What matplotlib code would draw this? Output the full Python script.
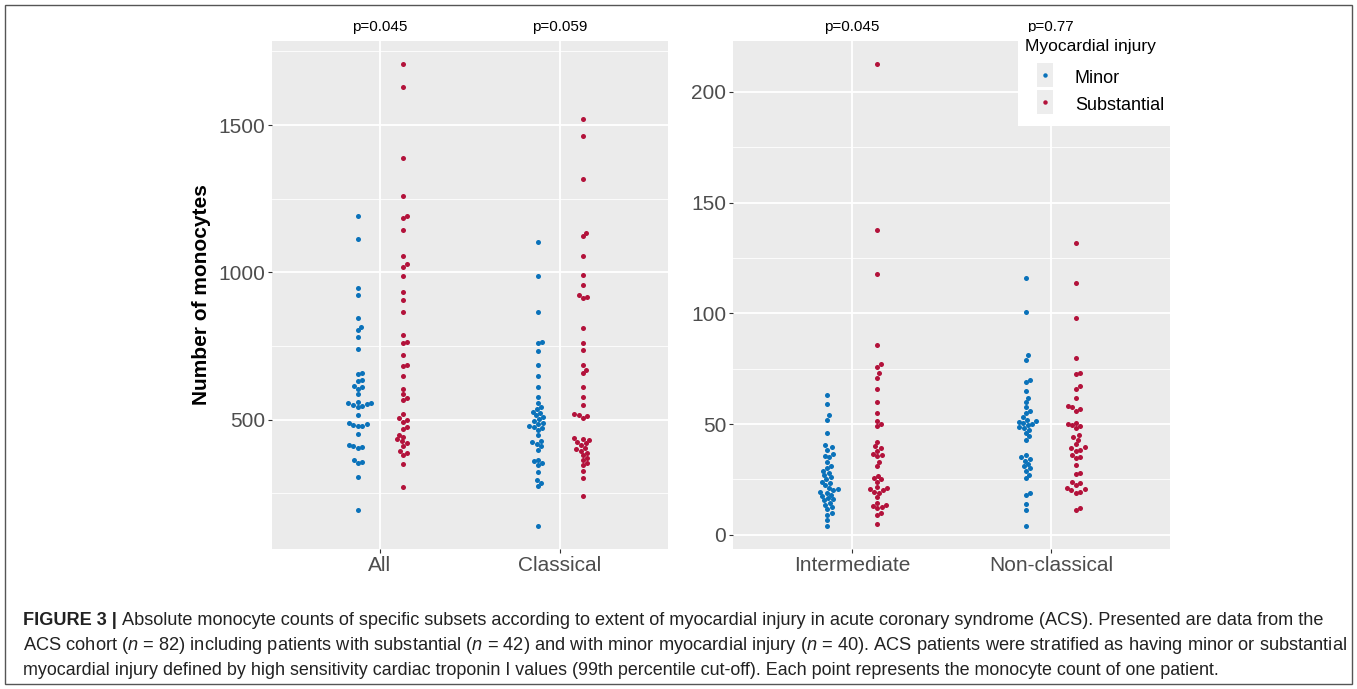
# Monocyte subsets by extent of myocardial injury (beeswarm, two panels)

import numpy as np
import matplotlib.pyplot as plt
from matplotlib.patches import Rectangle
from matplotlib.lines import Line2D

plt.rcParams['font.family'] = ['Liberation Sans', 'DejaVu Sans']
plt.rcParams['mathtext.fontset'] = 'custom'
plt.rcParams['mathtext.it'] = 'Liberation Sans:italic'
plt.rcParams['mathtext.rm'] = 'Liberation Sans'

# Data (monocyte counts per patient)

groups = ['Minor', 'Substantial']
colors = ['#0A72BA', '#B3123B']

left_categories = ['All', 'Classical']
right_categories = ['Intermediate', 'Non-classical']

all_minor = [1192, 1112, 946, 924, 845, 816, 805, 780, 740, 660, 655, 636, 632, 615, 610,
             605, 587, 562, 558, 556, 553, 550, 547, 545, 515, 490, 486, 482, 480, 478,
             453, 415, 412, 408, 404, 364, 358, 353, 306, 195]
all_subst = [1707, 1630, 1388, 1260, 1192, 1186, 1144, 1056, 1029, 1020, 989, 935, 907, 865,
             788, 765, 760, 719, 686, 681, 647, 604, 587, 574, 568, 519, 506, 500, 494, 477,
             470, 450, 443, 435, 428, 421, 412, 395, 387, 381, 350, 273]
classical_minor = [1104, 988, 866, 765, 760, 732, 685, 650, 612, 577, 556, 545, 535, 528, 522,
                   515, 508, 502, 496, 490, 485, 480, 476, 472, 465, 447, 429, 424, 419, 410,
                   398, 365, 359, 354, 348, 323, 297, 287, 276, 140]
classical_subst = [1521, 1464, 1317, 1135, 1124, 1056, 992, 957, 924, 918, 913, 813, 760, 736,
                   686, 669, 658, 611, 576, 550, 520, 517, 512, 506, 438, 435, 430, 425, 420,
                   415, 404, 400, 395, 387, 380, 370, 362, 353, 345, 325, 304, 240]
intermediate_minor = [63, 59, 54, 52, 46, 40.5, 39.5, 38.5, 36.5, 35.5, 35, 33, 31, 30, 29, 28,
                      27, 26, 25, 24, 23.5, 22.5, 21, 20.5, 20, 19.5, 19, 18, 17.5, 16.5, 16,
                      15.5, 14.5, 13.5, 12.5, 11.5, 10, 9, 6.5, 4]
intermediate_subst = [212.6, 137.7, 117.8, 85.8, 77, 76, 73, 71, 66, 60, 55, 51.5, 50, 49, 42,
                      40, 39, 38, 36.5, 36, 35.5, 33, 31, 26.5, 25.5, 25, 24, 21.5, 21, 20.5,
                      20, 19.5, 19, 17, 14.5, 13.5, 13, 12.5, 12, 10, 9, 5]
nonclassical_minor = [115.9, 100.8, 81, 79, 70, 69, 64.8, 62, 60, 57.5, 56, 55, 53, 52, 51.5,
                      51, 50.5, 50, 49.5, 48.5, 48, 47.5, 46, 44.5, 43, 36, 35, 34, 33.5, 32,
                      31, 30, 29, 27, 25.5, 19, 18, 14, 11, 4]
nonclassical_subst = [131.7, 113.9, 97.8, 80, 73, 72.5, 67, 66, 62, 58, 57.5, 57, 56, 50.5, 50,
                      49.5, 49, 48, 45, 44, 43, 41, 39.5, 39, 38.5, 38, 36, 35, 34.5, 31.3, 28,
                      27.5, 24, 23.5, 22.5, 21, 20.5, 20, 19.5, 19, 12, 11]

left_values = [[all_minor, all_subst], [classical_minor, classical_subst]]
right_values = [[intermediate_minor, intermediate_subst], [nonclassical_minor, nonclassical_subst]]

left_pvalues = ['p=0.045', 'p=0.059']
right_pvalues = ['p=0.045', 'p=0.77']

left_major = [500, 1000, 1500]
left_minor = [250, 750, 1250, 1750]
right_major = [0, 50, 100, 150, 200]
right_minor = [25, 75, 125, 175]

caption_bold = 'FIGURE 3 |'
caption_lines = [
    'Absolute monocyte counts of specific subsets according to extent of myocardial injury in acute coronary syndrome (ACS). Presented are data from the',
    'ACS cohort ($\\mathit{n}$ = 82) including patients with substantial ($\\mathit{n}$ = 42) and with minor myocardial injury ($\\mathit{n}$ = 40). ACS patients were stratified as having minor or substantial',
    'myocardial injury defined by high sensitivity cardiac troponin I values (99th percentile cut-off). Each point represents the monocyte count of one patient.',
]

W, H = 1357, 689
DODGE = 0.125
DOT = 4.8  # swarm spacing in pixels


def swarm_offsets(ypix, d):
    # place points one at a time, as close to the centre line as possible
    placed = []
    out = np.zeros(len(ypix))
    for i in np.argsort(ypix):
        y = ypix[i]
        cands = [0.0]
        for px, py in placed:
            dy = abs(y - py)
            if dy < d:
                dx = np.sqrt(d * d - dy * dy)
                cands += [px + dx, px - dx]
        cands.sort(key=abs)
        for c in cands:
            if all((c - px) ** 2 + (y - py) ** 2 >= d * d - 1e-6 for px, py in placed):
                break
        out[i] = c
        placed.append((c, y))
    return out


def draw_panel(ax, categories, values, pvalues, major, minor, width_px, height_px):
    allv = np.concatenate([np.concatenate(v) for v in values])
    span = allv.max() - allv.min()
    ylo, yhi = allv.min() - 0.05 * span, allv.max() + 0.05 * span
    xlo, xhi = 0.4, len(categories) + 0.6
    ax.set_xlim(xlo, xhi)
    ax.set_ylim(ylo, yhi)
    y_px = height_px / (yhi - ylo)
    x_px = width_px / (xhi - xlo)

    for ci, cat_vals in enumerate(values):
        for gi, vals in enumerate(cat_vals):
            vals = np.array(vals, dtype=float)
            offs = swarm_offsets(vals * y_px, DOT) / x_px
            xc = ci + 1 + (gi - 0.5) * 2 * DODGE
            ax.scatter(xc + offs, vals, s=13, color=colors[gi], linewidths=0, zorder=3)

    for ci, p in enumerate(pvalues):
        ax.text(ci + 1, 1.027, p, transform=ax.get_xaxis_transform(),
                ha='center', va='center', fontsize=11, color='black')

    ax.set_facecolor('#EBEBEB')
    ax.set_xticks(range(1, len(categories) + 1))
    ax.set_xticklabels(categories)
    ax.set_yticks(major)
    ax.set_yticks(minor, minor=True)
    ax.grid(which='major', color='white', linewidth=1.3)
    ax.grid(which='minor', axis='y', color='white', linewidth=0.6)
    ax.set_axisbelow(True)
    for s in ax.spines.values():
        s.set_visible(False)
    ax.tick_params(which='major', length=3, width=0.8, color='#333333',
                   labelcolor='#4D4D4D', labelsize=15, pad=2)
    ax.tick_params(which='minor', length=0)


fig = plt.figure(figsize=(W / 100, H / 100), dpi=100)

ax1 = fig.add_axes([272 / W, 1 - 549 / H, 396 / W, 508 / H])
ax2 = fig.add_axes([733 / W, 1 - 549 / H, 437 / W, 508 / H])

draw_panel(ax1, left_categories, left_values, left_pvalues, left_major, left_minor, 396, 508)
draw_panel(ax2, right_categories, right_values, right_pvalues, right_major, right_minor, 437, 508)

ax1.set_ylabel('Number of monocytes', fontsize=15, fontweight='bold')
ax1.yaxis.set_label_coords(-(272 - 211) / 396, 0.5)

# legend on a white box over the top right of the right panel
fig.add_artist(Rectangle((1018 / W, 1 - 126 / H), 162 / W, 94 / H, transform=fig.transFigure,
                         facecolor='white', edgecolor='none', zorder=3))
title = fig.text(1025 / W, 1 - 47 / H, 'Myocardial injury', fontsize=12.5, va='center',
                 ha='left', zorder=5)
handles = [Line2D([], [], linestyle='none', marker='o', markersize=3.2,
                  markerfacecolor=c, markeredgewidth=0) for c in colors]
leg = fig.legend(handles, groups, loc='upper left',
                 bbox_to_anchor=(1034 / W, 1 - 67 / H), frameon=False, fontsize=13,
                 handlelength=1.2, handleheight=1.3, handletextpad=1.07,
                 labelspacing=0.38, borderpad=0, borderaxespad=0)
leg.set_zorder(5)

renderer = fig.canvas.get_renderer()
fig.canvas.draw()
for h in leg.legend_handles:
    bb = h.get_window_extent(renderer)
    cx, cy = (bb.x0 + bb.x1) / 2, (bb.y0 + bb.y1) / 2
    fig.add_artist(Rectangle(((cx - 8) / W, (cy - 12) / H), 16 / W, 24 / H,
                             transform=fig.transFigure, facecolor='#EDEDED',
                             edgecolor='none', zorder=4))

# caption, each line stretched to the width it has in the figure
baselines = [625, 650, 675]
line_ends = [1322, 1345, 1222]
x0 = 23
fs = 12.5
tb = fig.text(x0 / W, 1 - baselines[0] / H, caption_bold, fontsize=fs, fontweight='bold',
              color='#222222', va='baseline')
for i, line in enumerate(caption_lines):
    t = fig.text(x0 / W, 1 - baselines[i] / H, line, fontsize=fs, color='#222222',
                 va='baseline')
    f = fs
    for _ in range(4):
        t.set_fontsize(f)
        start = x0
        if i == 0:
            tb.set_fontsize(f)
            start = x0 + tb.get_window_extent(renderer).width + 5
            t.set_x(start / W)
        w = t.get_window_extent(renderer).width
        f = f * (line_ends[i] - x0) / (w + start - x0)
    t.set_fontsize(f)
    if i == 0:
        tb.set_fontsize(f)
        t.set_x((x0 + tb.get_window_extent(renderer).width + 5) / W)

# outer frame
fig.add_artist(Rectangle((5 / W, 1 - 684 / H), 1347 / W, 679 / H, transform=fig.transFigure,
                         fill=False, edgecolor='#555555', linewidth=1))

fig.savefig('out.png', dpi=100)
